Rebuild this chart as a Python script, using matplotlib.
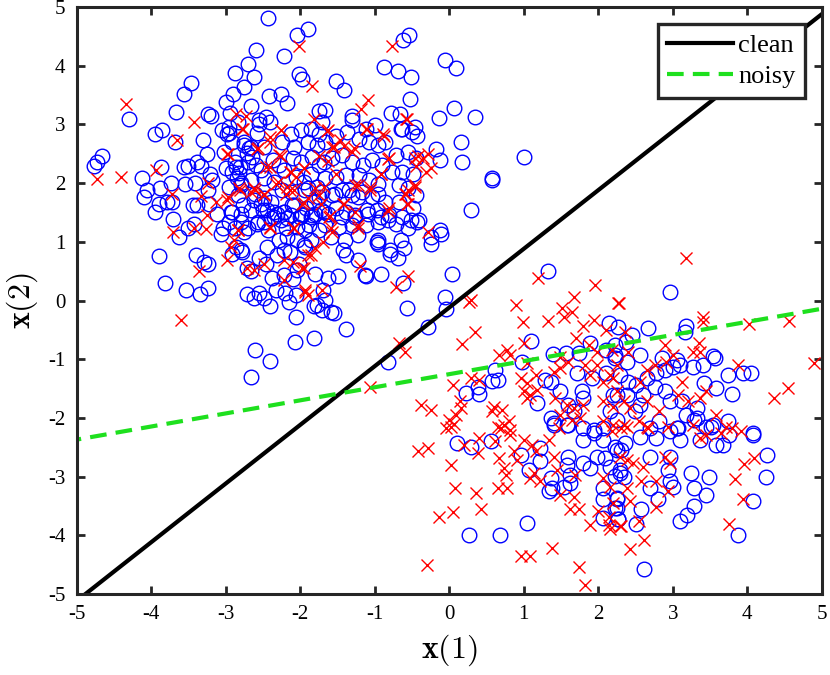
import numpy as np
import matplotlib
matplotlib.use("Agg")
import matplotlib.pyplot as plt

plt.rcParams['font.family'] = ['Liberation Serif', 'DejaVu Serif']
plt.rcParams['mathtext.fontset'] = 'cm'
plt.rcParams['axes.unicode_minus'] = False

# circles, upper-left cluster
circ_top = [
    (-2.43, 4.81), (-2.04, 4.53), (-1.90, 4.62), (-2.59, 4.26), (-2.22, 4.16), (-2.70, 4.03),
    (-2.87, 3.88), (-2.62, 3.80), (-2.01, 3.86), (-1.98, 3.77), (-2.75, 3.63), (-2.90, 3.51),
    (-2.99, 3.38), (-2.42, 3.48), (-2.25, 3.52), (-2.18, 3.36), (-2.66, 3.32), (-3.46, 3.70),
    (-3.56, 3.51), (-3.66, 3.22), (-4.29, 3.09), (-3.23, 3.17), (-3.20, 3.14), (-2.94, 3.20),
    (-2.46, 3.12), (-2.55, 3.07), (-3.95, 2.84), (-3.85, 2.91), (-3.68, 2.70), (-3.30, 2.74),
    (-3.05, 2.91), (-2.98, 2.83), (-2.95, 2.85), (-2.75, 2.70), (-2.58, 2.86), (-4.66, 2.46),
    (-4.73, 2.36), (-4.77, 2.29), (-3.87, 2.28), (-4.12, 2.08), (-4.05, 1.88), (-3.88, 1.92),
    (-3.73, 2.00), (-3.55, 1.99), (-3.51, 2.30), (-3.56, 2.28), (-3.38, 2.36), (-3.33, 2.30),
    (-3.25, 2.49), (-3.21, 2.15), (-3.18, 2.05), (-3.24, 1.88), (-3.41, 2.00), (-3.02, 2.53),
    (-3.00, 2.25), (-2.86, 2.28), (-2.82, 2.17), (-2.85, 2.09), (-2.80, 2.00), (-2.66, 2.62),
    (-2.64, 2.45), (-2.71, 2.51),
    (-0.54, 4.53), (-0.62, 4.43), (-0.05, 4.10), (0.09, 3.96), (-0.87, 3.97), (-0.69, 3.91),
    (-0.51, 3.81), (-1.52, 3.74), (-1.41, 3.59), (-0.52, 3.44), (-1.75, 3.23), (-1.66, 3.25),
    (-1.31, 3.14), (-0.78, 3.20), (-0.66, 3.17), (-0.46, 2.95), (-0.43, 2.81), (-0.65, 2.92),
    (-0.14, 3.11), (0.06, 3.28), (0.34, 3.12), (0.16, 2.70), (0.17, 2.36), (-0.18, 2.58),
    (-0.12, 2.40), (1.01, 2.44), (0.57, 2.09),
    (-4.09, 1.77), (-3.95, 1.51), (-3.89, 1.65), (-3.78, 1.68), (-3.72, 1.68), (-3.71, 1.39),
    (-3.62, 1.08), (-3.51, 1.23), (-3.42, 1.31), (-3.44, 1.62), (-3.38, 1.62), (-3.22, 1.64),
    (-3.11, 1.48), (-3.04, 1.23), (-3.06, 1.14), (-2.93, 1.51), (-2.80, 1.48), (-2.75, 1.17),
    (-2.80, 0.86), (-2.86, 0.92), (-2.78, 0.83), (-2.91, 0.80), (-2.62, 1.71), (-2.53, 1.65),
    (-2.44, 1.54), (-2.31, 1.48), (-2.22, 1.51), (-2.11, 1.62), (-2.58, 1.31), (-2.49, 1.34),
    (-2.35, 1.43), (-2.18, 1.40), (-2.00, 1.43), (-1.86, 1.43), (-2.29, 1.03), (-2.18, 1.08),
    (-2.04, 1.03), (-1.95, 0.94), (-2.22, 0.86), (-2.13, 0.83), (-2.31, 0.77), (-2.44, 0.92),
    (-2.55, 0.72), (-2.46, 0.63), (-3.90, 0.76), (-3.40, 0.77), (-3.29, 0.66), (-3.24, 0.63),
    (-2.71, 0.56), (-2.66, 0.51), (-3.81, 0.30), (-3.53, 0.18), (-3.34, 0.11), (-3.23, 0.21),
    (-2.71, 0.11), (-2.62, 0.04), (-2.55, 0.12), (-2.49, 0.04), (-2.40, -0.09), (-2.33, 0.18),
    (-2.20, 0.12), (-2.15, -0.02), (-2.06, 0.09), (-2.38, 0.38), (-2.22, 0.43), (-2.09, 0.36),
    (-2.04, 0.52), (-1.82, -0.09), (-2.06, -0.28), (-2.07, -0.71), (-1.82, -0.64), (-2.60, -0.84),
    (-2.40, -1.03), (-2.66, -1.30),
    (0.29, 1.55), (0.58, 2.05), (-0.51, 1.37), (-0.40, 1.37), (-0.24, 0.97), (-0.13, 1.20),
    (-0.11, 1.14), (-0.24, 1.09), (-0.64, 1.03), (-0.60, 0.89), (-0.69, 0.72), (-0.80, 0.80),
    (-0.95, 0.97), (-0.95, 1.03), (-0.91, 0.46), (-1.11, 0.41), (-1.13, 0.43), (-1.22, 0.69),
    (-1.49, 0.41), (-1.62, 0.38), (-1.80, 0.46), (-1.69, 0.18), (-1.66, 0.01), (-1.78, -0.08),
    (-1.58, -0.19), (-1.55, -0.22), (-1.71, -0.16), (-1.38, -0.49), (-0.62, 0.29), (0.04, 0.45),
    (-0.06, 0.06), (-0.04, -0.15), (-0.56, -0.13), (-0.29, -0.45), (-0.82, -1.04),
    (-1.93, 1.88), (-1.75, 1.77), (-1.53, 1.82), (-1.35, 1.88), (-1.22, 1.77), (-0.95, 1.82),
    (-1.98, 1.48), (-1.80, 1.48), (-1.62, 1.48), (-1.44, 1.43), (-1.26, 1.43), (-1.09, 1.48),
    (-0.91, 1.43), (-0.82, 1.37), (-1.93, 1.20), (-1.75, 1.20), (-1.58, 1.08), (-1.40, 1.03),
    (-1.42, 0.86), (-1.38, 0.77), (-1.22, 1.11), (-0.97, 1.00), (-0.80, 0.86), (-1.93, 0.91),
    (-2.02, 0.63), (-1.86, 1.03),
    (-2.95, 2.96), (-2.84, 3.04), (-2.55, 3.01), (-2.41, 3.04), (-2.12, 2.84), (-1.99, 2.90),
    (-1.86, 2.93), (-1.75, 2.84), (-2.92, 2.70), (-2.75, 2.65), (-2.68, 2.59), (-2.48, 2.62),
    (-2.24, 2.70), (-2.08, 2.62), (-1.90, 2.70), (-1.77, 2.65), (-2.88, 2.36), (-2.81, 2.28),
    (-2.92, 2.19), (-2.70, 2.36), (-2.59, 2.31), (-2.52, 2.22), (-2.37, 2.39), (-2.28, 2.31),
    (-2.21, 2.22), (-2.10, 2.42), (-1.99, 2.36), (-1.84, 2.45), (-1.75, 2.31), (-1.86, 2.16),
    (-1.95, 2.02), (-2.06, 2.11), (-2.35, 2.02), (-2.48, 2.08), (-2.66, 2.05), (-2.79, 1.96),
    (-2.95, 1.94), (-2.84, 1.79), (-2.61, 1.82), (-2.48, 1.74), (-2.39, 1.68), (-2.24, 1.88),
    (-2.12, 1.85), (-1.90, 1.91), (-1.77, 1.94), (-1.81, 1.68), (-1.92, 1.57), (-2.08, 1.62),
    (-2.21, 1.51), (-2.35, 1.51), (-2.50, 1.54), (-2.66, 1.54), (-2.77, 1.62), (-2.92, 1.51),
    (-2.95, 1.34), (-2.79, 1.34), (-2.57, 1.34), (-2.39, 1.40), (-2.25, 1.37), (-2.12, 1.45),
    (-1.97, 1.45), (-1.84, 1.45), (-1.72, 1.54), (-1.88, 1.28), (-2.04, 1.26), (-2.19, 1.23),
    (-2.43, 1.20), (-2.70, 1.23), (-2.88, 1.23),
    (-1.70, 3.04), (-1.30, 3.07), (-1.12, 2.93), (-0.99, 2.99), (-0.63, 2.93), (-0.50, 2.87),
    (-1.66, 2.70), (-1.52, 2.81), (-1.37, 2.87), (-1.21, 2.76), (-1.08, 2.70), (-0.95, 2.65),
    (-0.86, 2.70), (-0.72, 2.48), (-0.55, 2.53), (-0.44, 2.42), (-1.68, 2.36), (-1.57, 2.42),
    (-1.44, 2.48), (-1.30, 2.36), (-1.15, 2.31), (-1.03, 2.39), (-0.90, 2.31), (-0.77, 2.19),
    (-0.63, 2.19), (-0.48, 2.16), (-1.66, 2.08), (-1.52, 2.11), (-1.39, 2.14), (-1.21, 2.14),
    (-1.08, 2.05), (-0.95, 1.99), (-0.68, 1.96), (-0.55, 1.91), (-0.44, 1.79), (-1.70, 1.85),
    (-1.57, 1.79), (-1.44, 1.88), (-1.30, 1.79), (-1.17, 1.85), (-1.03, 1.76), (-0.86, 1.68),
    (-0.68, 1.68), (-0.48, 1.57), (-1.68, 1.51), (-1.52, 1.57), (-1.39, 1.51), (-1.26, 1.45),
    (-1.10, 1.54), (-0.97, 1.54), (-0.81, 1.45), (-0.63, 1.43), (-0.43, 1.34), (-1.66, 1.28),
    (-1.48, 1.26), (-1.30, 1.28), (-1.12, 1.28), (-0.95, 1.34), (-0.72, 1.31), (-0.55, 1.23),
]

# crosses, upper-left cluster
cross_top = [
    (-4.33, 3.34), (-2.02, 4.33), (-1.84, 3.66), (-3.43, 3.04), (-2.86, 3.18), (-2.73, 3.15),
    (-3.65, 2.74), (-2.78, 2.93), (-2.26, 2.90), (-2.40, 2.79), (-2.40, 2.70), (-2.58, 2.58),
    (-2.98, 2.49), (-2.26, 2.47), (-2.46, 2.27), (-2.13, 2.19), (-1.95, 2.25), (-4.73, 2.07),
    (-4.41, 2.11), (-3.93, 2.23), (-3.23, 2.00), (-3.72, 1.81), (-3.33, 1.78), (-2.82, 1.91),
    (-2.62, 1.91), (-2.33, 1.99), (-2.18, 1.94),
    (-0.77, 4.33), (-1.09, 3.41), (-1.18, 3.27), (-0.58, 3.10), (-0.89, 2.83), (-1.11, 2.93),
    (-1.64, 2.88), (-1.55, 2.62), (-1.41, 2.64), (-1.31, 2.53), (-1.75, 2.47), (-1.62, 2.37),
    (-0.82, 2.41), (-0.91, 2.16), (-0.42, 2.47), (-0.29, 2.50), (-0.35, 2.42), (-0.44, 2.30),
    (-0.24, 2.25), (-0.31, 2.19), (-0.46, 1.94), (-1.26, 1.96), (-1.06, 1.94), (-1.80, 1.91),
    (-0.55, 1.88),
    (-3.13, 1.68), (-2.98, 1.71), (-2.66, 1.85), (-2.49, 1.79), (-2.13, 1.88), (-1.95, 1.66),
    (-3.25, 1.45), (-3.70, 1.17), (-3.42, 1.23), (-3.26, 1.22), (-2.84, 1.20), (-2.89, 1.03),
    (-2.93, 0.92), (-2.98, 0.69), (-2.41, 1.25), (-2.09, 1.23), (-3.36, 0.51), (-2.71, 0.55),
    (-2.62, 0.52), (-2.49, 0.63), (-2.22, 0.69), (-2.09, 0.66), (-1.95, 0.55), (-1.86, 0.77),
    (-2.22, 0.35), (-1.93, 0.15), (-1.89, 0.09), (-3.60, -0.33),
    (-0.55, 0.41), (-0.71, 0.23), (-0.29, 1.17), (-1.93, 0.18), (-1.71, 0.18), (-1.20, 0.59),
    (-1.98, 0.55), (-1.89, 0.77), (-1.80, 0.89), (-1.69, 1.00), (-1.58, 1.24), (-1.22, 1.24),
    (-1.60, 1.44), (-1.42, 1.64), (-1.26, 1.50), (-0.82, 1.53), (-0.58, 1.82), (-0.55, 1.65),
    (-0.46, 1.96),
    (-2.77, 2.93), (-2.26, 2.90), (-2.57, 2.59), (-2.97, 2.50), (-2.41, 2.28), (-2.28, 2.48),
    (-2.12, 2.19), (-2.06, 2.11), (-1.95, 2.25), (-2.30, 2.02), (-2.08, 1.88), (-2.19, 1.82),
    (-2.81, 1.88), (-2.61, 1.88), (-2.48, 1.82), (-2.97, 1.76), (-1.90, 1.74), (-1.97, 1.65),
    (-1.75, 1.79), (-1.72, 1.65), (-2.84, 1.20), (-2.41, 1.23), (-2.08, 1.23), (-1.81, 3.10),
    (-1.63, 2.90), (-1.57, 2.62), (-1.46, 2.73), (-1.28, 2.59), (-1.10, 2.93), (-0.88, 2.81),
    (-0.57, 3.10), (-0.81, 2.42), (-0.46, 2.42), (-0.92, 2.16), (-1.52, 2.16), (-1.68, 1.94),
    (-1.23, 1.96), (-1.06, 1.88), (-0.59, 1.82), (-0.57, 1.65), (-1.41, 1.65), (-0.81, 1.57),
    (-1.61, 1.43), (-1.23, 1.28), (-1.57, 1.17),
]

# circles, lower-right cluster
circ_bot = [
    (1.33, 0.51), (1.10, -0.69), (2.14, -0.38), (2.27, -0.45), (1.89, -0.73), (2.22, -0.75),
    (2.37, -0.71), (1.39, -0.91), (1.57, -0.90), (1.74, -0.90), (2.22, -0.98), (0.98, -1.04),
    (0.62, -1.18), (0.65, -1.35), (0.58, -1.37), (0.22, -1.58), (0.40, -1.60), (0.38, -1.48),
    (1.29, -1.35), (1.36, -1.38), (1.71, -1.24), (1.91, -1.32), (2.11, -1.24), (1.49, -1.55),
    (1.18, -1.75), (1.78, -1.55), (1.80, -1.66), (1.67, -1.89), (1.60, -1.78), (2.16, -1.89),
    (2.25, -1.61), (1.36, -2.00), (1.40, -2.12), (1.58, -2.12), (1.94, -2.20), (2.07, -2.17),
    (2.25, -2.03),
    (2.96, 0.15), (2.45, -0.59), (2.67, -0.46), (3.18, -0.44), (3.16, -0.53), (2.11, -0.84),
    (2.22, -0.93), (2.38, -1.04), (2.56, -0.93), (2.85, -0.98), (3.05, -1.01), (3.09, -1.10),
    (3.27, -1.13), (3.40, -1.10), (3.54, -0.95), (3.56, -0.98), (3.74, -1.27), (3.94, -1.24),
    (4.05, -1.24), (3.42, -1.41), (3.58, -1.49), (3.80, -1.60), (2.89, -1.18), (3.00, -1.13),
    (2.78, -1.24), (2.65, -1.32), (2.51, -1.44), (2.40, -1.38), (2.29, -1.27), (2.20, -1.61),
    (2.38, -1.61), (2.60, -1.61), (2.76, -1.47), (2.89, -1.55), (2.96, -1.72), (3.13, -1.72),
    (3.33, -1.83), (3.18, -1.95), (3.32, -2.00), (3.45, -2.15), (3.54, -2.12), (3.74, -2.06),
    (4.07, -2.26), (3.05, -2.17), (2.82, -2.06), (2.69, -2.17), (2.56, -1.78), (2.49, -1.89),
    (0.11, -2.43), (0.29, -2.49), (0.56, -2.40), (0.96, -2.63), (1.07, -2.88), (1.22, -2.52),
    (1.22, -2.74), (1.36, -3.02), (1.34, -3.25), (1.38, -3.19), (1.54, -3.17), (1.62, -3.11),
    (1.60, -2.66), (1.58, -2.80), (1.62, -2.97), (1.40, -2.09), (1.60, -2.12), (1.80, -2.17),
    (1.80, -2.37), (1.94, -2.26), (2.07, -2.37), (1.98, -2.66), (1.80, -2.77), (1.89, -2.85),
    (2.09, -2.69), (2.25, -2.54), (2.29, -2.88), (2.22, -2.99), (2.07, -3.19), (2.07, -3.39),
    (2.25, -3.39), (2.22, -3.53), (2.07, -3.70), (2.27, -3.73), (2.36, -2.43), (0.26, -4.00),
    (0.68, -4.00), (1.04, -3.79),
    (4.08, -2.29), (4.26, -2.64), (4.25, -3.01), (4.07, -3.42), (3.87, -4.00), (2.62, -4.58),
    (3.25, -2.94), (3.48, -3.01), (3.28, -3.19), (3.45, -3.32), (3.28, -3.50), (3.19, -3.65),
    (3.10, -3.76), (3.36, -2.38), (3.58, -2.47), (3.67, -2.47), (3.76, -2.29), (3.51, -2.15),
    (3.29, -2.03), (3.09, -2.38), (3.07, -2.17), (2.96, -2.23), (2.78, -2.34), (2.69, -2.66),
    (2.96, -2.66), (2.94, -2.88), (2.96, -3.08), (3.00, -3.17), (2.69, -3.19), (2.80, -3.39),
    (2.58, -3.56), (2.51, -3.80), (2.25, -3.36), (2.25, -3.53), (2.27, -3.73), (2.22, -2.49),
    (2.31, -2.54), (2.29, -2.94), (2.34, -3.00), (2.16, -2.83), (2.56, -2.32),
]

# crosses, lower-right cluster
cross_bot = [
    (0.27, -0.02), (0.29, 0.01), (0.90, -0.08), (0.99, -0.37), (0.34, -0.53), (0.17, -0.74),
    (-0.67, -0.72), (-0.59, -0.87), (-1.06, -1.47),
    (1.19, 0.38), (1.96, 0.26), (1.67, 0.06), (2.27, -0.05), (1.51, -0.13), (1.65, -0.19),
    (1.54, -0.28), (1.33, -0.35), (1.80, -0.43), (1.94, -0.33), (2.10, -0.50), (1.00, -0.73),
    (1.70, -0.64), (1.87, -0.76), (1.98, -0.87), (2.18, -0.84), (0.67, -0.93), (0.78, -0.84),
    (0.82, -0.93), (1.05, -1.07), (1.49, -0.96), (1.60, -1.04), (1.82, -1.10), (1.98, -1.10),
    (0.29, -1.32), (0.40, -1.35), (0.05, -1.44), (0.96, -1.32), (1.05, -1.41), (1.16, -1.27),
    (1.40, -1.21), (1.49, -1.15), (1.89, -1.27), (2.07, -1.38), (2.20, -1.32), (1.00, -1.55),
    (1.09, -1.61), (1.05, -1.66), (1.18, -1.52), (1.42, -1.66), (1.58, -1.78), (1.67, -1.83),
    (1.80, -1.78), (2.07, -1.72), (2.20, -1.81), (2.34, -1.72), (-0.38, -1.78), (-0.24, -1.86),
    (0.14, -1.72), (0.09, -1.95), (0.00, -2.03), (0.60, -1.81), (0.71, -1.86), (0.58, -1.89),
    (0.80, -2.06), (0.82, -2.20), (0.69, -2.18), (0.02, -2.15), (0.16, -1.83), (1.49, -1.95),
    (1.65, -2.03), (1.76, -2.00), (1.47, -2.17), (2.07, -2.06), (2.20, -2.12), (2.31, -2.17),
    (3.18, 0.72), (2.28, -0.05), (3.41, -0.28), (3.40, -0.36), (4.02, -0.40), (4.56, -0.35),
    (4.89, -1.07), (3.35, -0.73), (3.36, -0.87), (3.27, -0.87), (3.87, -1.10), (4.55, -1.49),
    (4.36, -1.66), (2.89, -0.76), (3.00, -0.93), (2.91, -1.04), (2.76, -1.10), (2.65, -1.18),
    (2.56, -1.38), (3.13, -1.38), (3.07, -1.61), (3.20, -1.72), (3.36, -1.66), (3.45, -1.55),
    (3.58, -1.95), (2.36, -0.53), (2.40, -0.87), (2.25, -1.10), (2.16, -1.27), (2.25, -1.55),
    (2.42, -1.83), (2.65, -1.72), (2.82, -1.89), (2.54, -2.06), (2.67, -2.17), (3.27, -2.12),
    (3.80, -2.17), (3.45, -2.29), (2.34, -2.12),
    (0.07, -2.10), (-0.04, -2.17), (-0.29, -2.52), (-0.42, -2.57), (0.02, -2.80), (0.08, -3.19),
    (0.36, -3.28), (-0.14, -3.69), (0.05, -3.61), (0.43, -3.55), (-0.30, -4.51), (0.20, -2.46),
    (0.40, -2.34), (0.38, -2.60), (0.62, -2.40), (0.65, -2.15), (0.74, -2.12), (0.82, -2.29),
    (0.67, -2.69), (0.74, -2.86), (0.76, -2.97), (0.87, -2.57), (0.91, -2.71), (0.65, -3.19),
    (0.78, -3.19), (1.00, -2.37), (1.11, -2.46), (1.16, -2.57), (1.14, -2.94), (1.22, -3.08),
    (1.09, -3.02), (1.34, -2.37), (1.40, -2.66), (1.45, -2.88), (1.49, -3.31), (1.69, -2.97),
    (1.67, -3.34), (1.62, -3.56), (1.74, -3.56), (1.89, -3.82), (2.00, -3.59), (2.07, -3.02),
    (2.14, -3.82), (2.29, -3.85), (1.38, -4.22), (0.96, -4.35), (1.09, -4.36), (1.74, -4.54),
    (1.82, -4.84),
    (3.91, -2.23), (3.71, -2.15), (3.65, -2.26), (4.09, -2.69), (3.96, -2.78), (3.84, -3.04),
    (3.94, -3.38), (3.75, -3.81), (3.36, -2.34), (2.94, -2.15), (2.89, -2.66), (2.96, -2.77),
    (2.78, -3.08), (2.94, -3.25), (2.58, -3.08), (2.38, -3.19), (2.42, -3.42), (2.78, -3.52),
    (2.54, -3.76), (2.62, -4.08), (2.43, -4.23), (2.31, -3.85), (2.16, -3.90), (2.14, -3.68),
    (2.20, -3.45), (2.16, -3.17), (2.29, -2.66), (2.38, -2.71), (2.47, -2.77), (2.60, -2.83),
    (2.18, -2.23), (2.38, -2.15), (2.65, -2.15),
]

# decision boundaries: slope, intercept
clean_w = (1.0, -0.12)
noisy_w = (0.223, -1.255)

circles = np.array(circ_top + circ_bot)
crosses = np.array(cross_top + cross_bot)

fig = plt.figure(figsize=(8.3, 6.75), dpi=100)
ax = fig.add_axes([0.0922, 0.12, 0.898, 0.8696])

ax.plot(circles[:, 0], circles[:, 1], 'o', ms=10.5, mfc='none', mec='#0000ff', mew=1.0, ls='none')
ax.plot(crosses[:, 0], crosses[:, 1], 'x', ms=8, mec='#ff0000', mew=1.0, ls='none')

xs = np.array([-5.5, 5.5])
ax.plot(xs, clean_w[0] * xs + clean_w[1], color='black', lw=3, label='clean')
ax.plot(xs, noisy_w[0] * xs + noisy_w[1], color='#1ee01e', lw=3, ls=(0, (4, 2.2)), label='noisy')

ax.set_xlim(-5, 5)
ax.set_ylim(-5, 5)
ax.set_xticks(range(-5, 6))
ax.set_yticks(range(-5, 6))
ax.tick_params(direction='in', top=True, right=True, length=6, width=2,
               color='#262626', labelsize=15, pad=8)
for s in ax.spines.values():
    s.set_linewidth(2.2)
    s.set_color('#262626')

ax.set_xlabel(r'$\mathbf{x}(1)$', fontsize=23, labelpad=6)
ax.set_ylabel(r'$\mathbf{x}(2)$', fontsize=23, labelpad=6)

leg = ax.legend(loc='upper right', fontsize=19, handlelength=2.5, handletextpad=0.2,
                labelspacing=0.3, borderpad=0.35, borderaxespad=0.65, fancybox=False)
leg.get_frame().set_edgecolor('#262626')
leg.get_frame().set_linewidth(2.4)
leg.get_frame().set_alpha(1)

fig.savefig('out.png', dpi=100)
